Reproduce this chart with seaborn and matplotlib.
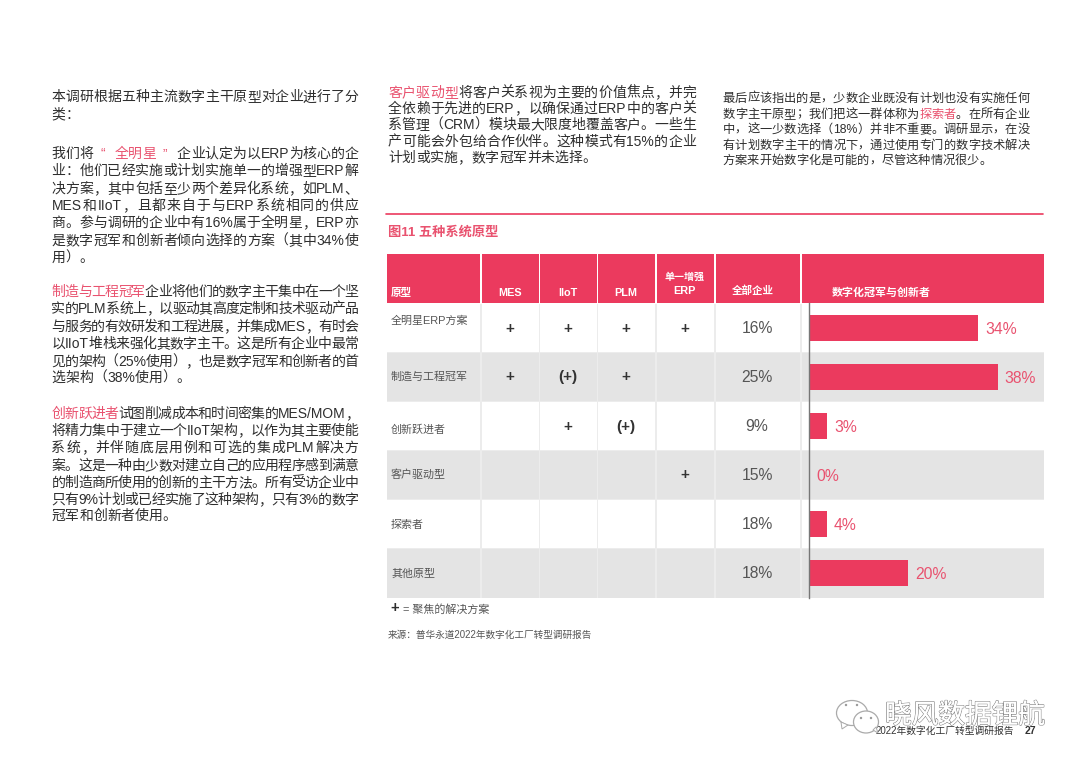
import re

import matplotlib.pyplot as plt
import matplotlib.patheffects as pe
from matplotlib.patches import Ellipse, Polygon, Rectangle
import pandas as pd
import seaborn as sns

# Datos de la tabla
archetypes = ['全明星ERP方案', '制造与工程冠军', '创新跃进者', '客户驱动型', '探索者', '其他原型']
system_cols = ['MES', 'IIoT', 'PLM', '单一增强\nERP']
focus_marks = [
    ['+', '+', '+', '+'],
    ['+', '(+)', '+', ''],
    ['', '+', '(+)', ''],
    ['', '', '', '+'],
    ['', '', '', ''],
    ['', '', '', ''],
]
all_firms = ['16%', '25%', '9%', '15%', '18%', '18%']
champion_labels = ['34%', '38%', '3%', '0%', '4%', '20%']
# largo de las barras
champion_bars = [34, 38, 3.6, 0, 3.6, 20]

# Texto de la página, {..} = resaltado
para_intro = ['本调研根据五种主流数字主干原型对企业进行了分', '类：']
para_star = [
    '我们将 {“全明星 ”}企业认定为以ERP为核心的企',
    '业：他们已经实施或计划实施单一的增强型ERP解',
    '决方案，其中包括至少两个差异化系统，如PLM、',
    'MES和IIoT，且都来自于与ERP系统相同的供应',
    '商。参与调研的企业中有16%属于全明星，ERP亦',
    '是数字冠军和创新者倾向选择的方案（其中34%使',
    '用）。',
]
para_mfg = [
    '{制造与工程冠军}企业将他们的数字主干集中在一个坚',
    '实的PLM系统上，以驱动其高度定制和技术驱动产品',
    '与服务的有效研发和工程进展，并集成MES，有时会',
    '以IIoT堆栈来强化其数字主干。这是所有企业中最常',
    '见的架构（25%使用），也是数字冠军和创新者的首',
    '选架构（38%使用）。',
]
para_leap = [
    '{创新跃进者}试图削减成本和时间密集的MES/MOM，',
    '将精力集中于建立一个IIoT架构，以作为其主要使能',
    '系统，并伴随底层用例和可选的集成PLM解决方',
    '案。这是一种由少数对建立自己的应用程序感到满意',
    '的制造商所使用的创新的主干方法。所有受访企业中',
    '只有9%计划或已经实施了这种架构，只有3%的数字',
    '冠军和创新者使用。',
]
para_customer = [
    '{客户驱动型}将客户关系视为主要的价值焦点，并完',
    '全依赖于先进的ERP，以确保通过ERP中的客户关',
    '系管理（CRM）模块最大限度地覆盖客户。一些生',
    '产可能会外包给合作伙伴。这种模式有15%的企业',
    '计划或实施，数字冠军并未选择。',
]
para_explorer = [
    '最后应该指出的是，少数企业既没有计划也没有实施任何',
    '数字主干原型；我们把这一群体称为{探索者}。在所有企业',
    '中，这一少数选择（18%）并非不重要。调研显示，在没',
    '有计划数字主干的情况下，通过使用专门的数字技术解决',
    '方案来开始数字化是可能的，尽管这种情况很少。',
]

RED = '#eb3a5e'
PINK = '#e9526f'
DARK = '#2e2e2e'
GREY_TXT = '#555555'

sns.set_theme(style='white')
plt.rcParams['font.family'] = ['Liberation Sans', 'Noto Sans CJK SC', 'DejaVu Sans']

fig = plt.figure(figsize=(10.8, 7.64), dpi=100, facecolor='white')
page = fig.add_axes([0, 0, 1, 1])
page.set_xlim(0, 1080)
page.set_ylim(764, 0)
page.axis('off')
renderer = fig.canvas.get_renderer()


def token_width(tok, size):
    em = size * 100 / 72
    if tok == ' ':
        return em / 2
    if not tok.isascii():
        return em
    t = page.text(0, 0, tok, fontsize=size)
    w = t.get_window_extent(renderer).width
    t.remove()
    return w


def draw_line(line, x, y, width, size, justify):
    # separar en fichas: palabras latinas juntas, CJK de una en una
    tokens = []
    for i, part in enumerate(re.split(r'[{}]', line)):
        color = PINK if i % 2 else DARK
        for tok in re.findall(r'[A-Za-z0-9%/]+|.', part):
            tokens.append((tok, color))
    widths = [token_width(t, size) for t, _ in tokens]
    gap = (width - sum(widths)) / (len(tokens) - 1) if justify else 0
    for (tok, color), w in zip(tokens, widths):
        page.text(x, y, tok, fontsize=size, color=color, ha='left', va='baseline')
        x += w + gap


def draw_paragraph(lines, x, ys, width, size):
    for i, (line, y) in enumerate(zip(lines, ys)):
        draw_line(line, x, y + size * 0.48, width, size, i < len(lines) - 1)


draw_paragraph(para_intro, 51.5, [96.5, 114], 307, 10)
draw_paragraph(para_star, 51.5, [153, 170, 188, 205, 222, 240, 257], 307, 10)
draw_paragraph(para_mfg, 51.5, [291, 308, 326, 343, 361, 377], 307, 10)
draw_paragraph(para_leap, 51.5, [413, 430, 447, 465, 482, 499, 515], 307, 10)
draw_paragraph(para_customer, 388, [92, 108, 124, 141, 157], 308, 10)
draw_paragraph(para_explorer, 722.5, [97.5, 113.5, 128.5, 144.5, 159.5], 307, 8.8)

page.plot([386, 1043], [214, 214], color=RED, lw=1.2)
page.text(388, 232, '图11 五种系统原型', fontsize=9.5, fontweight='bold', color=PINK, va='center')

# Tabla
col_edges = [(386.5, 480), (482, 538.5), (540, 596.5), (598, 655), (656.5, 713.5), (716, 800), (802, 1044)]
row_edges = [303.5, 352, 401, 450, 499, 548, 598]
page.add_patch(Rectangle((386.5, 303.5), 657.5, 294.5, color='#ececec', lw=0, zorder=0))
for left, right in col_edges:
    page.add_patch(Rectangle((left, 253.5), right - left, 49.5, color=RED, lw=0, zorder=1))
    for r in range(6):
        shade = '#e4e4e4' if r % 2 else 'white'
        page.add_patch(Rectangle((left, row_edges[r] + 0.5), right - left,
                                 row_edges[r + 1] - row_edges[r] - 1, color=shade, lw=0, zorder=1))
page.text(391, 293, '原型', fontsize=7.6, fontweight='bold', color='white', va='center')
sys_centers = [510, 568, 626, 684.5]
for name, cx in zip(system_cols, sys_centers):
    if '\n' in name:
        top, bottom = name.split('\n')
        page.text(cx, 277, top, fontsize=7.2, fontweight='bold', color='white', ha='center', va='center')
        page.text(cx, 291, bottom, fontsize=7.8, fontweight='bold', color='white', ha='center', va='center')
    else:
        page.text(cx, 293.5, name, fontsize=7.8, fontweight='bold', color='white', ha='center', va='center')
page.text(753, 291, '全部企业', fontsize=7.6, fontweight='bold', color='white', ha='center', va='center')
page.text(832, 293, '数字化冠军与创新者', fontsize=7.9, fontweight='bold', color='white', va='center')

label_ys = [321, 377, 430, 475, 525, 574]
for r, name in enumerate(archetypes):
    cy = (row_edges[r] + row_edges[r + 1]) / 2
    page.text(391, label_ys[r], name, fontsize=7.9, color=GREY_TXT, va='center')
    for mark, cx in zip(focus_marks[r], sys_centers):
        if mark:
            page.text(cx, cy + 1, mark, fontsize=11, fontweight='bold', color='#333333',
                      ha='center', va='center')
    page.text(757, cy + 1, all_firms[r], fontsize=11.3, color=GREY_TXT, ha='center', va='center')

page.text(390, 608, '+', fontsize=10.5, fontweight='bold', color='#2e2e2e', va='center')
page.text(403, 610, '= 聚焦的解决方案', fontsize=7.9, color=GREY_TXT, va='center')
page.text(388, 635, '来源：普华永道2022年数字化工厂转型调研报告', fontsize=6.9, color=GREY_TXT, va='center')

# Barras
bar_ax = fig.add_axes([809 / 1080, 1 - 598 / 764, 235 / 1080, 294.5 / 764])
bar_ax.patch.set_alpha(0)
df = pd.DataFrame({'archetype': archetypes, 'pct': champion_bars})
sns.barplot(data=df, y='archetype', x='pct', color=RED, saturation=1, width=0.53, linewidth=0, ax=bar_ax)
bar_ax.set_xlim(0, 235 / 4.97)
bar_ax.set_ylim(5.5, -0.5)
bar_ax.set_xlabel('')
bar_ax.set_ylabel('')
bar_ax.set_xticks([])
bar_ax.set_yticks([])
sns.despine(ax=bar_ax, top=True, right=True, bottom=True)
bar_ax.spines['left'].set_color('#777777')
bar_ax.spines['left'].set_linewidth(1)
for r, (val, lab) in enumerate(zip(champion_bars, champion_labels)):
    bar_ax.text(val + 1.4, r + 0.02, lab, fontsize=11.3, color=PINK, va='center', ha='left')

# Pie de página y marca de agua
page.text(876, 731, '2022年数字化工厂转型调研报告', fontsize=7, color='#333333', va='center')
page.text(1025, 731, '27', fontsize=7.5, fontweight='bold', color='#333333', va='center')
for cx, cy, w, h in [(852, 713, 31, 25), (866, 722, 25, 22)]:
    page.add_patch(Ellipse((cx, cy), w, h, facecolor='white', edgecolor='#aaaaaa', lw=0.9, zorder=3))
page.add_patch(Polygon([[841, 722], [842, 729], [848, 725]], facecolor='white', edgecolor='#aaaaaa', lw=0.7, zorder=3))
page.add_patch(Polygon([[873, 730], [878, 733], [876, 727]], facecolor='white', edgecolor='#aaaaaa', lw=0.7, zorder=3))
for ex, ey in [(846, 705), (857, 705), (861, 718), (871, 718)]:
    page.add_patch(Ellipse((ex, ey), 2.4, 2.4, color='#999999', lw=0, zorder=4))
wm = page.text(885, 716, '晓风数据锂航', fontsize=19.2, color='white', va='center', zorder=5)
wm.set_path_effects([pe.withStroke(linewidth=1.0, foreground='#888888'), pe.Normal()])

fig.savefig('out.png', dpi=100)
